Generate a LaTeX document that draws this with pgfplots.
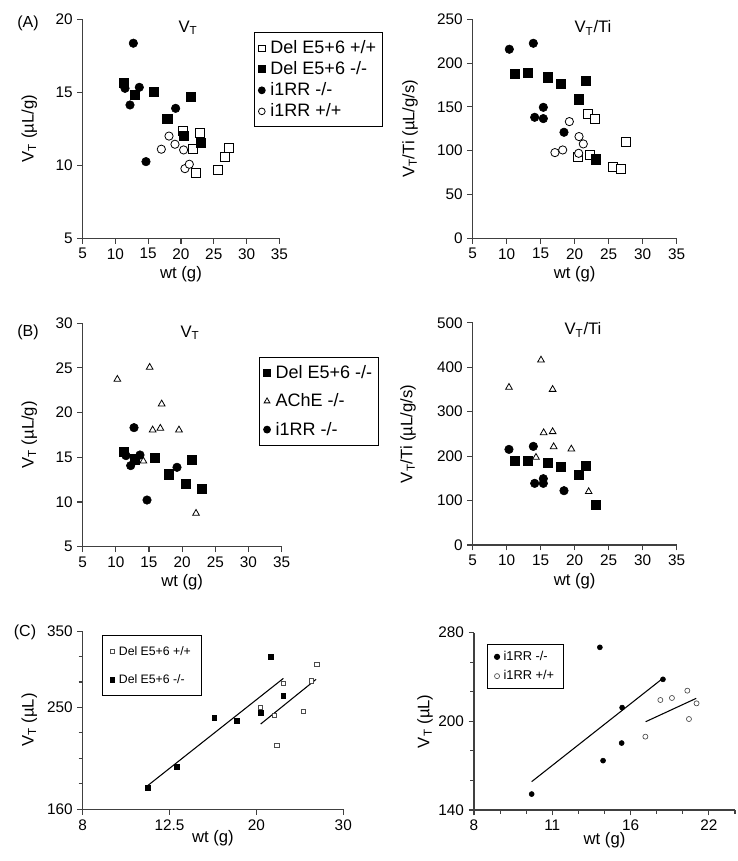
\documentclass[border=0pt]{standalone}
\usepackage{fontspec}
\setmainfont{Liberation Sans}
\usepackage{pgfplots}
\pgfplotsset{compat=1.18}

\pgfplotsset{
  panel/.style={
    scale only axis, anchor=south west,
    axis lines=left, axis line style={-, black!75, line width=0.8pt},
    tick align=outside, tick style={black!75, line width=0.8pt},
    major tick length=4pt, minor tick length=3pt,
    tick label style={font=\fontsize{11.5}{12}\selectfont},
    label style={font=\fontsize{12.5}{14}\selectfont},
    /pgf/number format/assume math mode=true,
    clip=false, legend cell align=left,
    legend style={draw=black, line width=0.8pt, anchor=north west,
      font=\fontsize{13.5}{14}\selectfont, column sep=2pt},
    legend image code/.code={\draw[mark repeat=2,mark phase=2,##1]
      plot coordinates {(0cm,0cm) (0.14cm,0cm) (0.28cm,0cm)};},
  },
  delwt/.style={only marks, mark=square*, mark size=3.4pt,
    mark options={draw=black, fill=white, line width=0.6pt}},
  delko/.style={only marks, mark=square*, mark size=3.4pt,
    mark options={draw=black, fill=black}},
  rrko/.style={only marks, mark=*, mark size=3.2pt,
    mark options={draw=black, fill=black}},
  rrwt/.style={only marks, mark=*, mark size=3.1pt,
    mark options={draw=black, fill=white, line width=0.6pt}},
  ache/.style={only marks, mark=triangle*, mark size=2.9pt,
    mark options={draw=black, fill=white, line width=0.6pt}},
  fit/.style={black, line width=0.8pt, no marks},
}

\begin{document}
\begin{tikzpicture}
\path[use as bounding box] (0,0) rectangle (553.5pt,-645.75pt);

% ---- (A) V_T
\begin{axis}[panel, at={(62pt,-178.7pt)}, width=147.5pt, height=164.25pt,
  xmin=5, xmax=35, ymin=5, ymax=20,
  xtick={5,10,...,35}, ytick={5,10,15,20},
  xlabel={wt (g)}, ylabel={V\textsubscript{T} (µL/g)},
  ylabel style={at={(axis description cs:0,0.5)}, anchor=center, yshift=40pt},
  xlabel style={at={(axis description cs:0.5,0)}, anchor=center, yshift=-27pt},
  legend style={at={(axis description cs:0.871,0.941)}, row sep=0.5pt,
    inner ysep=4pt},
  legend image post style={mark size=2.5pt}]
\addplot[delwt] coordinates {(20.25,12.37) (22.95,12.24) (21.88,11.1) (22.29,9.45) (25.64,9.68) (26.7,10.6) (27.37,11.16)};
\addlegendentry{Del E5+6 +/+}
\addplot[delko] coordinates {(11.3,15.62) (12.98,14.82) (15.88,15.05) (17.91,13.2) (21.47,14.7) (20.4,12.03) (22.95,11.55)};
\addlegendentry{Del E5+6 -/-}
\addplot[rrko] coordinates {(11.46,15.27) (12.73,18.36) (12.22,14.13) (13.64,15.34) (19.18,13.9) (14.66,10.25)};
\addlegendentry{i1RR -/-}
\addplot[rrwt] coordinates {(17.0,11.1) (18.17,12.0) (19.08,11.44) (20.4,11.05) (20.6,9.77) (21.27,10.07)};
\addlegendentry{i1RR +/+}
\end{axis}

% ---- (A) V_T/Ti
\begin{axis}[panel, at={(354.5pt,-178.7pt)}, width=153pt, height=164.25pt,
  xmin=5, xmax=35, ymin=0, ymax=250,
  xtick={5,10,...,35}, ytick={0,50,...,250},
  xlabel={wt (g)}, ylabel={V\textsubscript{T}/Ti (µL/g/s)},
  ylabel style={at={(axis description cs:0,0.5)}, anchor=center, yshift=47pt},
  xlabel style={at={(axis description cs:0.5,0)}, anchor=center, yshift=-27pt}]
\addplot[delwt] coordinates {(20.49,92.5) (21.96,141.9) (23.04,136.6) (22.25,94.7) (25.59,81.8) (26.86,79.5) (27.55,109.6)};
\addplot[delko] coordinates {(11.23,187.6) (13.09,189.1) (15.98,183.8) (17.99,176.9) (21.57,180.0) (20.54,158.7) (23.04,90.2)};
\addplot[rrko] coordinates {(10.39,215.8) (13.92,222.6) (14.12,138.1) (15.39,149.5) (15.39,136.6) (18.43,121.0)};
\addplot[rrwt] coordinates {(17.1,97.8) (18.24,100.8) (19.22,133.2) (20.59,97.0) (20.64,116.1) (21.27,107.7)};
\end{axis}

% ---- (B) V_T
\begin{axis}[panel, at={(62pt,-410pt)}, width=149.25pt, height=167.55pt,
  xmin=5, xmax=35, ymin=5, ymax=30,
  xtick={5,10,...,35}, ytick={5,10,...,30},
  xlabel={wt (g)}, ylabel={V\textsubscript{T} (µL/g)},
  ylabel style={at={(axis description cs:0,0.5)}, anchor=center, yshift=40pt},
  xlabel style={at={(axis description cs:0.5,0)}, anchor=center, yshift=-27pt},
  legend style={at={(axis description cs:0.887,0.85)}, row sep=6pt,
    inner ysep=4pt},
  legend image post style={mark size=2.5pt}]
\addplot[delko] coordinates {(11.23,15.63) (12.89,14.78) (15.85,15.0) (17.91,13.1) (21.48,14.7) (20.48,12.01) (22.94,11.49)};
\addlegendentry{Del E5+6 -/-}
\addplot[ache] coordinates {(10.23,23.73) (15.1,25.07) (16.91,20.97) (15.55,18.06) (16.71,18.25) (19.52,18.06) (14.15,14.59) (22.09,8.73)};
\addlegendentry{AChE -/-}
\addplot[rrko] coordinates {(12.74,18.32) (11.53,15.19) (12.24,14.07) (13.64,15.26) (19.22,13.88) (14.7,10.22)};
\addlegendentry{i1RR -/-}
\end{axis}

% ---- (B) V_T/Ti
\begin{axis}[panel, at={(354.5pt,-408.75pt)}, width=153pt, height=166.7pt,
  xmin=5, xmax=35, ymin=0, ymax=500,
  xtick={5,10,...,35}, ytick={0,100,...,500},
  xlabel={wt (g)}, ylabel={V\textsubscript{T}/Ti (µL/g/s)},
  ylabel style={at={(axis description cs:0,0.5)}, anchor=center, yshift=48.5pt},
  xlabel style={at={(axis description cs:0.5,0)}, anchor=center, yshift=-27pt}]
\addplot[delko] coordinates {(11.23,189.7) (13.09,189.7) (16.03,185.2) (17.99,176.2) (21.57,179.2) (20.54,158.9) (23.04,90.0)};
\addplot[ache] coordinates {(10.34,354.6) (15.05,416) (16.76,350) (15.44,252.6) (16.76,254.9) (16.91,221.1) (19.51,215.9) (14.31,197.2) (22.06,120.0)};
\addplot[rrko] coordinates {(10.34,215.1) (13.92,221.9) (14.12,138.7) (15.39,149.2) (15.39,138.7) (18.43,122.2)};
\end{axis}

% ---- (C) Del E5+6, log-log
\begin{axis}[panel, at={(62pt,-607pt)}, width=195.45pt, height=133.7pt,
  xmode=log, ymode=log,
  xmin=8, xmax=30.52, ymin=160, ymax=349.4,
  xtick={8,12.5,19.53,30.52}, xticklabels={8,12.5,20,30},
  ytick={160,250,349.4}, yticklabels={160,250,350},
  minor xtick={}, minor ytick={178.9,200,223.6,279.5,312.5},
  xlabel={wt (g)}, ylabel={V\textsubscript{T} (µL)},
  ylabel style={at={(axis description cs:0,0.5)}, anchor=center, yshift=40pt},
  xlabel style={at={(axis description cs:0.5,0)}, anchor=center, yshift=-21.5pt},
  legend style={at={(axis description cs:0.073,0.978)}, row sep=9pt,
    font=\fontsize{9.2}{11}\selectfont, inner xsep=6pt, inner ysep=6pt,
    column sep=1pt},
  delwt/.append style={mark size=1.6pt,
    mark options={draw=black!70, fill=white, line width=0.5pt}},
  delko/.append style={mark size=1.75pt}]
\addplot[delwt] coordinates {(19.97,250.5) (21.38,241.5) (22.44,277.9) (21.68,211.8) (24.86,245.8) (25.95,281.1) (26.63,302.4)};
\addlegendentry{Del E5+6 +/+}
\addplot[delko] coordinates {(11.19,175.9) (12.97,192.9) (15.74,239.1) (17.65,235.9) (20.0,244.0) (21.02,312.3) (22.44,263.2)};
\addlegendentry{Del E5+6 -/-}
\addplot[fit, forget plot] coordinates {(11.19,177.7) (22.44,284.0)};
\addplot[fit, forget plot] coordinates {(19.97,232.5) (26.54,282.8)};
\end{axis}

% ---- (C) i1RR, log-log
\begin{axis}[panel, at={(355.5pt,-607.5pt)}, width=195.75pt, height=133pt,
  xmode=log, ymode=log,
  xmin=8, xmax=24.56, ymin=140, ymax=280,
  xtick={8,11.2,15.68,21.952}, xticklabels={8,11,16,22},
  minor xtick={8.9495,10.0118,12.529,14.016,17.541,19.623,24.558},
  ytick={140,197.99,280}, yticklabels={140,200,280},
  minor ytick={157.14,176.39,222.24,249.46},
  xlabel={wt (g)}, ylabel={V\textsubscript{T} (µL)},
  ylabel style={at={(axis description cs:0,0.5)}, anchor=center, yshift=36.75pt},
  xlabel style={at={(axis description cs:0.5,0)}, anchor=center, yshift=-22.5pt},
  legend style={at={(axis description cs:0.051,0.936)}, row sep=2pt,
    font=\fontsize{9.6}{11}\selectfont, inner xsep=5pt, inner ysep=3pt,
    column sep=1pt},
  rrko/.append style={mark size=1.9pt},
  rrwt/.append style={mark size=1.9pt,
    mark options={draw=black!70, fill=white, line width=0.5pt}}]
\addplot[rrko] coordinates {(10.25,149.0) (13.74,264.4) (15.12,208.9) (18.02,233.3) (15.09,181.9) (13.93,169.8)};
\addlegendentry{i1RR -/-}
\addplot[rrwt] coordinates {(16.71,186.5) (17.82,215.2) (18.73,216.9) (20.01,223.2) (20.15,199.8) (20.82,212.4)};
\addlegendentry{i1RR +/+}
\addplot[fit, forget plot] coordinates {(10.25,156.4) (18.02,234.3)};
\addplot[fit, forget plot] coordinates {(16.73,197.7) (20.79,216.6)};
\end{axis}

% panel letters and titles
\node[font=\fontsize{12}{14}\selectfont] at (21pt,-17.25pt) {(A)};
\node[font=\fontsize{12}{14}\selectfont] at (21pt,-249pt) {(B)};
\node[font=\fontsize{12}{14}\selectfont] at (18.75pt,-474pt) {(C)};
\node[font=\fontsize{12.5}{14}\selectfont] at (141pt,-21pt) {V\textsubscript{T}};
\node[font=\fontsize{12.5}{14}\selectfont] at (444.75pt,-21pt) {V\textsubscript{T}/Ti};
\node[font=\fontsize{12.5}{14}\selectfont] at (142.5pt,-249.75pt) {V\textsubscript{T}};
\node[font=\fontsize{12.5}{14}\selectfont] at (437.25pt,-247.5pt) {V\textsubscript{T}/Ti};
\end{tikzpicture}
\end{document}
